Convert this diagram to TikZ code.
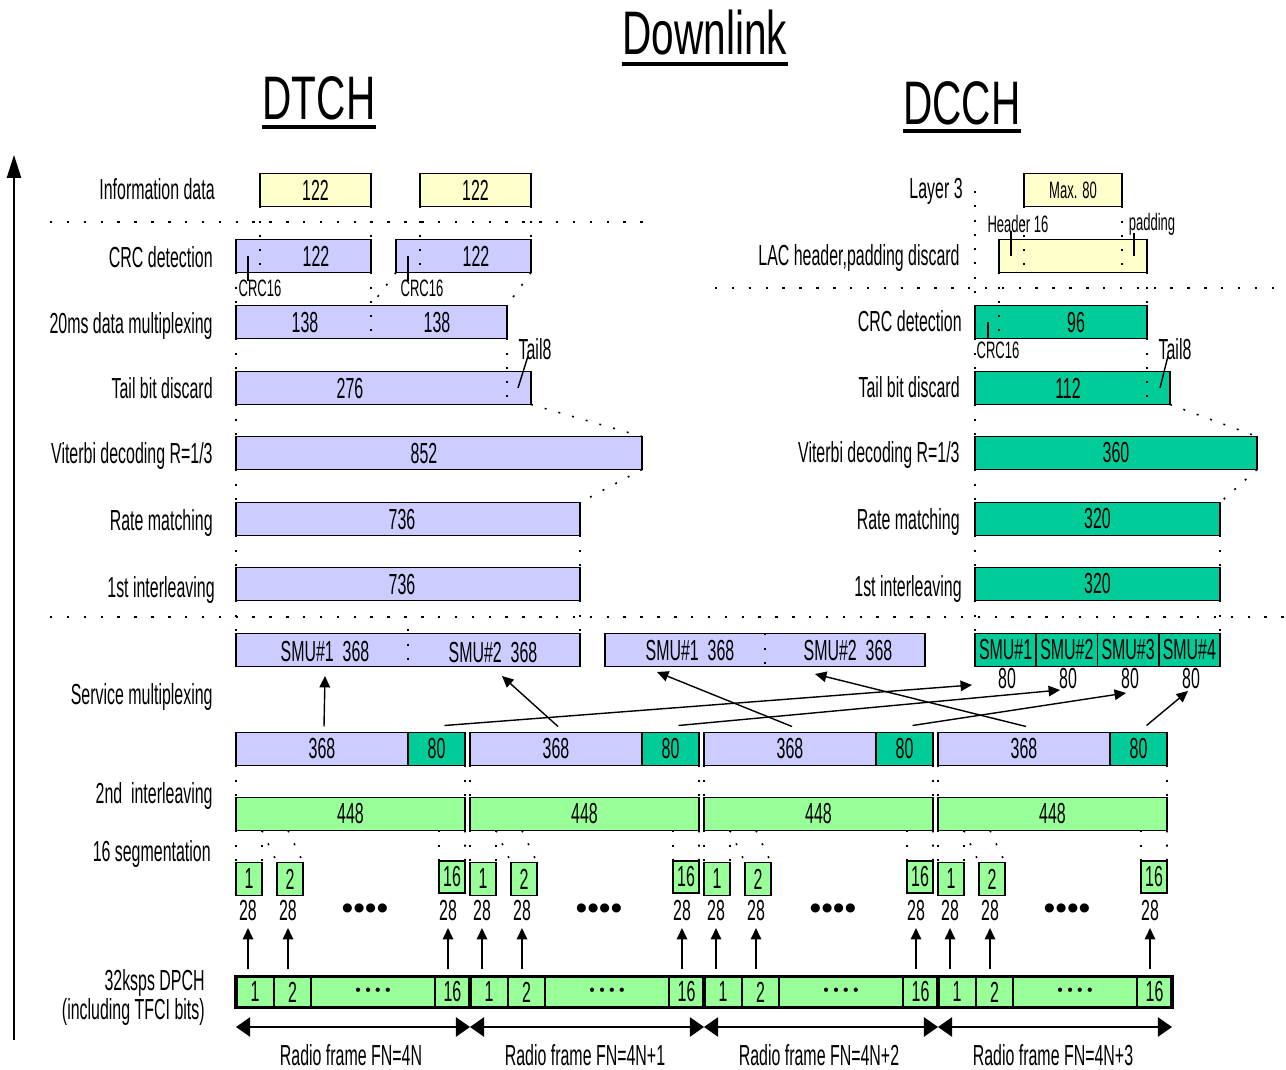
\documentclass[tikz,border=0pt]{standalone}
\usepackage{fontspec}
\setmainfont{Liberation Sans}[FakeStretch=0.55]
\newfontfamily\ttlfont{Liberation Sans}[FakeStretch=0.66]
\newfontfamily\dotfont{Liberation Sans}
\usetikzlibrary{arrows.meta,calc,positioning}
\definecolor{lavfill}{RGB}{204,204,255}
\definecolor{dkgreen}{RGB}{0,204,153}
\definecolor{ltgreen}{RGB}{153,255,153}
\definecolor{yelfill}{RGB}{255,255,204}
\tikzset{
	blk/.style={draw, line width=0.9pt, inner sep=0pt, outer sep=0pt, minimum height=0.66cm, anchor=west},
	lav/.style={blk, fill=lavfill},
	dgr/.style={blk, fill=dkgreen},
	lgr/.style={blk, fill=ltgreen},
	yel/.style={blk, fill=yelfill},
	wd/.style={minimum width=#1*0.02cm},
	txt/.style={inner sep=0pt, anchor=base, yshift=-5.9pt},
	sml/.style={inner sep=0pt, anchor=base, yshift=-4.8pt, font=\fontsize{13.5}{15}\selectfont},
	lbl/.style={inner sep=0pt, anchor=base east, yshift=-5.9pt},
	ttl/.style={inner sep=0pt, anchor=base, font=\ttlfont\fontsize{35}{38}\selectfont},
	guide/.style={line width=0.9pt, dash pattern=on 1.1pt off 7pt},
	sep/.style={line width=0.9pt, dash pattern=on 1.4pt off 8.2pt},
	tick/.style={line width=0.8pt},
	arr/.style={line width=0.8pt, -{Triangle[length=6.5pt, width=6pt]}},
	darr/.style={line width=0.8pt, {Triangle[length=8pt, width=11pt]}-{Triangle[length=8pt, width=11pt]}},
}

\begin{document}
\begin{tikzpicture}[x=0.02cm, y=-0.02cm, font=\fontsize{16.5}{19}\selectfont]
	\useasboundingbox (0,0) rectangle (1286,1070);

	\node[ttl] (dl) at (705,55) {Downlink};
	\node[ttl] (dt) at (319,120) {DTCH};
	\node[ttl] (dc) at (962,125) {DCCH};
	\draw[line width=1.8pt] ($(dl.base west)+(0,9)$) -- ($(dl.base east)+(0,9)$);
	\draw[line width=1.8pt] ($(dt.base west)+(0,7)$) -- ($(dt.base east)+(0,7)$);
	\draw[line width=1.8pt] ($(dc.base west)+(0,6)$) -- ($(dc.base east)+(0,6)$);

	\coordinate (ax0) at (14,1040);
	\coordinate (ax1) at (14,155);
	\draw[line width=1.2pt, -{Triangle[length=13pt, width=8pt]}] (ax0) -- (ax1);

	\draw[sep] (50,222) -- (650,222);
	\draw[sep] (715,288) -- (1286,288);
	\draw[sep] (50,617) -- (1286,617);

	\node[lbl] (l1) at (215,189) {Information data};
	\node[lbl] (l2) at (213,257) {CRC detection};
	\node[lbl] (l3) at (213,323) {20ms data multiplexing};
	\node[lbl] (l4) at (213,388) {Tail bit discard};
	\node[lbl] (l5) at (213,453) {Viterbi decoding R=1/3};
	\node[lbl] (l6) at (213,520) {Rate matching};
	\node[lbl] (l7) at (215,587) {1st interleaving};
	\node[lbl] (l8) at (213,694) {Service multiplexing};
	\node[lbl] (l9) at (213,793) {2nd\ \ interleaving};
	\node[lbl] (l10) at (211,851) {16 segmentation};
	\node[lbl] (l11) at (205,980) {32ksps DPCH};
	\node[lbl] (l12) at (205,1009) {(including TFCI bits)};

	\node[lbl] (r1) at (963,188) {Layer 3};
	\node[lbl] (r2) at (960,255) {LAC header,padding discard};
	\node[lbl] (r3) at (962,321) {CRC detection};
	\node[lbl] (r4) at (960,387) {Tail bit discard};
	\node[lbl] (r5) at (960,452) {Viterbi decoding R=1/3};
	\node[lbl] (r6) at (960,519) {Rate matching};
	\node[lbl] (r7) at (962,586) {1st interleaving};

	\node[yel, wd=111] (inf1) at (260,190) {122};
	\node[yel, wd=111] (inf2) at (420,190) {122};
	\node[lav, wd=135] (crc1) at (236,256) {};
	\node[lav, wd=135] (crc2) at (396,256) {};
	\node[lav, wd=271] (mux) at (236,322) {};
	\node[lav, wd=295] (tb) at (236,388) {};
	\node[lav, wd=406] (vit) at (236,453) {};
	\node[lav, wd=344] (rm) at (236,519) {};
	\node[lav, wd=344] (il) at (236,584) {};
	\node[lav, wd=344] (sm1) at (236,650) {};
	\node[lav, wd=320] (sm2) at (605,650) {};

	\node[txt] (crc1t) at (316,256) {122};
	\node[txt] (crc2t) at (476,256) {122};
	\node[txt] (muxa) at (305,322) {138};
	\node[txt] (muxb) at (437,322) {138};
	\node[txt] (tbt) at (350,388) {276};
	\node[txt] (vitt) at (424,453) {852};
	\node[txt] (rmt) at (402,519) {736};
	\node[txt] (ilt) at (402,584) {736};
	\node[txt] (sm1a) at (325,651) {SMU\#1\ \ 368};
	\node[txt] (sm1b) at (493,652) {SMU\#2\ \ 368};
	\node[txt] (sm2a) at (690,650) {SMU\#1\ \ 368};
	\node[txt] (sm2b) at (848,650) {SMU\#2\ \ 368};

	\node[sml] (c16a) at (260,288) {CRC16};
	\node[sml] (c16b) at (422,288) {CRC16};
	\node[txt] (t8a) at (535,349) {Tail8};

	\node[yel, wd=98, font=\fontsize{13.5}{15}\selectfont] (mx) at (1024,190) {Max. 80};
	\node[yel, wd=148] (lac) at (999,256) {};
	\node[dgr, wd=172] (crcg) at (975,322) {};
	\node[dgr, wd=195] (tbg) at (975,388) {};
	\node[dgr, wd=282] (vitg) at (975,453) {360};
	\node[dgr, wd=245] (rmg) at (975,519) {320};
	\node[dgr, wd=245] (ilg) at (975,584) {320};
	\node[dgr, wd=61.25] (d1) at (975,650) {SMU\#1};
	\node[dgr, wd=61.25, right=0pt of d1] (d2) {SMU\#2};
	\node[dgr, wd=61.25, right=0pt of d2] (d3) {SMU\#3};
	\node[dgr, wd=61.25, right=0pt of d3] (d4) {SMU\#4};

	\node[txt] (crcgt) at (1076,322) {96};
	\node[txt] (tbgt) at (1068,388) {112};
	\node[sml] (h16) at (1018,224) {Header 16};
	\node[sml] (pad) at (1152,222) {padding};
	\node[sml] (c16c) at (998,350) {CRC16};
	\node[txt] (t8b) at (1175,349) {Tail8};
	\node[txt] (e1) at (1007,678) {80};
	\node[txt] (e2) at (1068,678) {80};
	\node[txt] (e3) at (1130,678) {80};
	\node[txt] (e4) at (1191,678) {80};

	\draw[tick] ($(crc1.west)+(12,0)$) -- ($(crc1.south west)+(12,9)$);
	\draw[tick] ($(crc2.west)+(12,0)$) -- ($(crc2.south west)+(12,9)$);
	\draw[tick] ($(tb.east)+(-13,0)$) -- ($(t8a.south)+(-7,-4)$);
	\draw[tick] ($(lac.west)+(12,0)$) -- ($(lac.north west)+(12,-8)$);
	\draw[tick] ($(lac.east)+(-13,0)$) -- ($(lac.north east)+(-13,-6)$);
	\draw[tick] ($(crcg.west)+(13,0)$) -- ($(crcg.south west)+(13,0)$);
	\draw[tick] ($(tbg.east)+(-10,0)$) -- ($(t8b.south)+(-7,-4)$);

	\foreach \i/\fn in {1/4N, 2/4N+1, 3/4N+2, 4/4N+3}{
		\pgfmathsetmacro{\xo}{236+234*(\i-1)}
		\node[lav, wd=172] (m\i) at (\xo,749) {368};
		\node[dgr, wd=57, right=0pt of m\i] (k\i) {80};
		\node[lgr, wd=229] (il\i) at (\xo,814) {448};
		\node[lgr, wd=26] (sa\i) at (\xo,879) {1};
		\node[lgr, wd=26] (sb\i) at (\xo+41,879) {2};
		\node[lgr, wd=26, minimum height=0.64cm] (sc\i) at (\xo+203,877) {16};
		\node[txt] (na\i) at (\xo+12,910) {28};
		\node[txt] (nb\i) at (\xo+52,910) {28};
		\node[txt] (nc\i) at (\xo+212,910) {28};
		\node[inner sep=0pt, font=\dotfont\fontsize{19}{19}\selectfont] (nd\i) at (\xo+129,912) {••••};
		\node[lgr, wd=38, minimum height=0.62cm] (pa\i) at (\xo,992) {1};
		\node[lgr, wd=37, minimum height=0.62cm, right=0pt of pa\i] (pb\i) {2};
		\node[lgr, wd=124, minimum height=0.62cm, right=0pt of pb\i] (pd\i) {\dotfont\fontsize{9}{9}\selectfont • • • •};
		\node[lgr, wd=35, minimum height=0.62cm, right=0pt of pd\i] (pc\i) {16};
		\draw[arr, shorten <=4pt, shorten >=4pt] (na\i.south |- pa\i.north) -- (na\i.south);
		\draw[arr, shorten <=4pt, shorten >=4pt] (nb\i.south |- pb\i.north) -- (nb\i.south);
		\draw[arr, shorten <=4pt, shorten >=4pt] (nc\i.south |- pc\i.north) -- (nc\i.south);
		\coordinate (fs\i) at (\xo,1027);
		\coordinate (fe\i) at (\xo+234,1027);
		\draw[darr] (fs\i) -- (fe\i);
		\node[txt] (rf\i) at (\xo+115,1055) {Radio frame FN=\fn};
		\draw[guide] (m\i.south west) -- (il\i.north west);
		\draw[guide] (k\i.south east) -- (il\i.north east);
		\draw[guide] (il\i.south west) -- (sa\i.north west);
		\draw[guide] ($(il\i.south west)+(26,0)$) -- (sa\i.north east);
		\draw[guide] ($(il\i.south west)+(26,0)$) -- (sb\i.north west);
		\draw[guide] ($(il\i.south west)+(52,0)$) -- (sb\i.north east);
		\draw[guide] ($(il\i.south west)+(203,0)$) -- (sc\i.north west);
		\draw[guide] (il\i.south east) -- (sc\i.north east);
	}
	\draw[line width=2pt] (pa1.north west) rectangle (pc4.south east);
	\foreach \i in {2,3,4}
		\draw[line width=2pt] (pa\i.north west) -- (pa\i.south west);

	\coordinate (ts1) at (325,676);
	\coordinate (ts2) at (502,676);
	\coordinate (ts3) at (657,672);
	\coordinate (ts4) at (815,674);
	\coordinate (td1) at (972,685);
	\coordinate (td2) at (1060,690);
	\coordinate (td3) at (1126,693);
	\coordinate (td4) at (1188,691);
	\foreach \i in {1,...,4}{
		\draw[arr] ($(m\i.north)+(2,-6)$) -- (ts\i);
		\draw[arr] ($(k\i.north)+(8,-7)$) -- (td\i);
	}

	\draw[guide] (inf1.south west) -- (inf1.south west |- crc1.south);
	\draw[guide] (inf1.south east) -- (crc1.north east);
	\draw[guide] (inf2.south west) -- (inf2.south west |- crc2.south);
	\draw[guide] (inf2.south east) -- (crc2.north east);
	\draw[guide] (crc1.south west) -- (mux.north west);
	\draw[guide] (crc1.south east) -- (crc1.south east |- mux.south);
	\draw[guide] (crc2.south west) -- (crc1.south east |- mux.north);
	\draw[guide] (crc2.south east) -- (mux.north east);
	\draw[guide] (mux.south west) -- (tb.north west);
	\draw[guide] (mux.south east) -- (mux.south east |- tb.south);
	\draw[guide] (tb.south west) -- (vit.north west);
	\draw[guide] (tb.south east) -- (vit.north east);
	\draw[guide] (vit.south west) -- (rm.north west);
	\draw[guide] (vit.south east) -- (rm.north east);
	\draw[guide] (rm.south west) -- (il.north west);
	\draw[guide] (rm.south east) -- (il.north east);
	\draw[guide] (il.south west) -- (sm1.north west);
	\draw[guide] (il.south east) -- (sm1.north east);
	\draw[guide] ($(sm1.north west)+(172,-4)$) -- ($(sm1.south west)+(172,0)$);
	\draw[guide] ($(sm2.north west)+(160,0)$) -- ($(sm2.south west)+(160,0)$);

	\draw[guide] (r1.east -| crcg.west) -- (crcg.north west);
	\draw[guide] (mx.south west) -- (mx.south west |- lac.south);
	\draw[guide] (mx.south east) -- (mx.south east |- lac.south);
	\draw[guide] (lac.south west) -- (lac.south west |- crcg.south);
	\draw[guide] (lac.south east) -- (crcg.north east);
	\draw[guide] (crcg.south west) -- (tbg.north west);
	\draw[guide] (crcg.south east) -- (crcg.south east |- tbg.south);
	\draw[guide] (tbg.south west) -- (vitg.north west);
	\draw[guide] (tbg.south east) -- (vitg.north east);
	\draw[guide] (vitg.south west) -- (rmg.north west);
	\draw[guide] (vitg.south east) -- (rmg.north east);
	\draw[guide] (rmg.south west) -- (ilg.north west);
	\draw[guide] (rmg.south east) -- (ilg.north east);
	\draw[guide] (ilg.south west) -- (d1.north west);
	\draw[guide] (ilg.south east) -- (d4.north east);
\end{tikzpicture}
\end{document}
